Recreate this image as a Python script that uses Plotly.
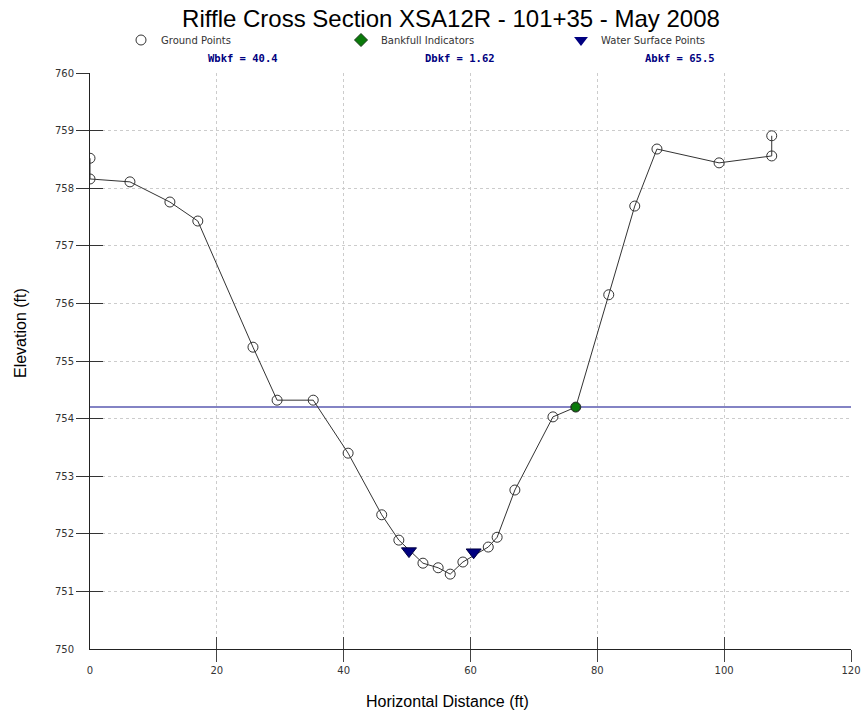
import plotly.graph_objects as go

# ---------------- data ----------------
ground_x = [0.0, 0.0, 6.3, 12.6, 17.0, 25.7, 29.5, 35.2, 40.7, 46.0, 48.7, 52.5, 54.9,
            56.8, 58.8, 62.8, 64.2, 67.0, 73.0, 76.6, 81.8, 85.9, 89.4, 99.2, 107.5, 107.5]
ground_y = [758.52, 758.16, 758.11, 757.76, 757.43, 755.24, 754.32, 754.32, 753.40, 752.33,
            751.89, 751.49, 751.41, 751.30, 751.51, 751.77, 751.94, 752.76, 754.03, 754.20,
            756.15, 757.69, 758.68, 758.44, 758.56, 758.91]
bankfull_x = [76.6]
bankfull_y = [754.20]
water_x = [50.3, 60.5]
water_y = [751.70, 751.68]
bankfull_elev = 754.2

x_ticks = [0, 20, 40, 60, 80, 100, 120]
y_ticks = [750, 751, 752, 753, 754, 755, 756, 757, 758, 759, 760]
stats = ["Wbkf = 40.4", "Dbkf = 1.62", "Abkf = 65.5"]

title_text = "Riffle Cross Section XSA12R - 101+35 - May 2008"

# ---------------- geometry helpers ----------------
W, H = 867, 719
L, R, T, B = 90, 16, 73, 70
PW, PH = W - L - R, H - T - B


def px_x(p):
    return (p - L) / PW


def px_y(p):
    return (H - B - p) / PH


fig = go.Figure()

fig.add_trace(go.Scatter(
    x=ground_x, y=ground_y, mode="lines+markers", name="Ground Points",
    line=dict(color="#333333", width=1),
    marker=dict(symbol="circle-open", size=10, color="#333333", line=dict(width=1)),
    showlegend=False))
fig.add_trace(go.Scatter(
    x=bankfull_x, y=bankfull_y, mode="markers", name="Bankfull Indicators",
    marker=dict(symbol="circle", size=9, color="#0a7a0a", line=dict(color="#1a3a1a", width=1)),
    showlegend=False))
fig.add_trace(go.Scatter(
    x=water_x, y=water_y, mode="markers", name="Water Surface Points",
    marker=dict(symbol="triangle-down", size=13, color="#000080", line=dict(color="#000040", width=1)),
    showlegend=False))

# legend-only entries
fig.add_trace(go.Scatter(x=[None], y=[None], mode="markers", name="Ground Points",
                         marker=dict(symbol="circle-open", size=10, color="#333333")))
fig.add_trace(go.Scatter(x=[None], y=[None], mode="markers", name="Bankfull Indicators",
                         marker=dict(symbol="diamond", size=10, color="#0a7a0a",
                                     line=dict(color="#1a3a1a", width=1))))
fig.add_trace(go.Scatter(x=[None], y=[None], mode="markers", name="Water Surface Points",
                         marker=dict(symbol="triangle-down", size=12, color="#000080")))

fig.add_hline(y=bankfull_elev, line=dict(color="#5a5ab0", width=1.5), layer="below")

tickfont = dict(family="DejaVu Sans, Tahoma", size=10, color="#333333")
grid = dict(showgrid=True, gridcolor="#cccccc", griddash="3px,3px", gridwidth=1)

fig.update_layout(
    width=W, height=H,
    margin=dict(l=L, r=R, t=T, b=B, autoexpand=False),
    paper_bgcolor="white", plot_bgcolor="white",
    title=dict(text=title_text, x=451 / W, xref="container", xanchor="center",
               y=1 - 19 / H, yref="container", yanchor="middle",
               font=dict(family="Liberation Sans, Arial", size=24, color="#000000")),
    showlegend=True,
    legend=dict(orientation="h", x=px_x(121), y=px_y(40), xanchor="left", yanchor="middle",
                entrywidth=175, entrywidthmode="pixels",
                font=dict(family="DejaVu Sans, Tahoma", size=10, color="#333333"),
                bgcolor="rgba(0,0,0,0)"),
    xaxis=dict(range=[0, 120], tickvals=x_ticks, ticks="outside", ticklen=12, automargin=False,
               tickcolor="rgba(0,0,0,0)", tickfont=tickfont, zeroline=False,
               showline=True, linecolor="#222222", linewidth=1, **grid),
    yaxis=dict(range=[750, 760], tickvals=y_ticks, ticks="outside", ticklen=13, automargin=False,
               tickcolor="rgba(0,0,0,0)", tickfont=tickfont, zeroline=False,
               showline=True, linecolor="#222222", linewidth=1, **grid),
    xaxis2=dict(range=[0, 120], overlaying="x", side="bottom", tickvals=x_ticks[1:],
                ticks="outside", ticklen=12, tickcolor="#444444", showticklabels=False,
                showgrid=False, zeroline=False, showline=False, automargin=False),
    xaxis3=dict(range=[0, 120], overlaying="x", side="bottom", tickvals=x_ticks[1:],
                ticks="inside", ticklen=12, tickcolor="#444444", showticklabels=False,
                showgrid=False, zeroline=False, showline=False, automargin=False),
    yaxis2=dict(range=[750, 760], overlaying="y", side="left", tickvals=y_ticks[1:],
                ticks="outside", ticklen=13, tickcolor="#333333", showticklabels=False,
                showgrid=False, zeroline=False, showline=False, automargin=False),
    yaxis3=dict(range=[750, 760], overlaying="y", side="left", tickvals=y_ticks[1:],
                ticks="inside", ticklen=13, tickcolor="#333333", showticklabels=False,
                showgrid=False, zeroline=False, showline=False, automargin=False),
)

# dummy traces to activate overlay axes
fig.add_trace(go.Scatter(x=[None], y=[None], xaxis="x2", yaxis="y2", showlegend=False, hoverinfo="skip"))
fig.add_trace(go.Scatter(x=[None], y=[None], xaxis="x3", yaxis="y3", showlegend=False, hoverinfo="skip"))

stat_px = [243, 460, 680]
for s, p in zip(stats, stat_px):
    fig.add_annotation(text="<b>%s</b>" % s, x=px_x(p), y=px_y(58), xref="paper", yref="paper",
                       showarrow=False, xanchor="center", yanchor="middle",
                       font=dict(family="DejaVu Sans Mono", size=10.5, color="#000080"))

fig.add_annotation(text="Elevation (ft)", x=px_x(20), y=px_y(333), xref="paper", yref="paper",
                   showarrow=False, textangle=-90, xanchor="center", yanchor="middle",
                   font=dict(family="Liberation Sans, Arial", size=16, color="#000000"))
fig.add_annotation(text="Horizontal Distance (ft)", x=px_x(447), y=px_y(701), xref="paper",
                   yref="paper", showarrow=False, xanchor="center", yanchor="middle",
                   font=dict(family="Liberation Sans, Arial", size=16, color="#000000"))

fig.write_html("out.html")
